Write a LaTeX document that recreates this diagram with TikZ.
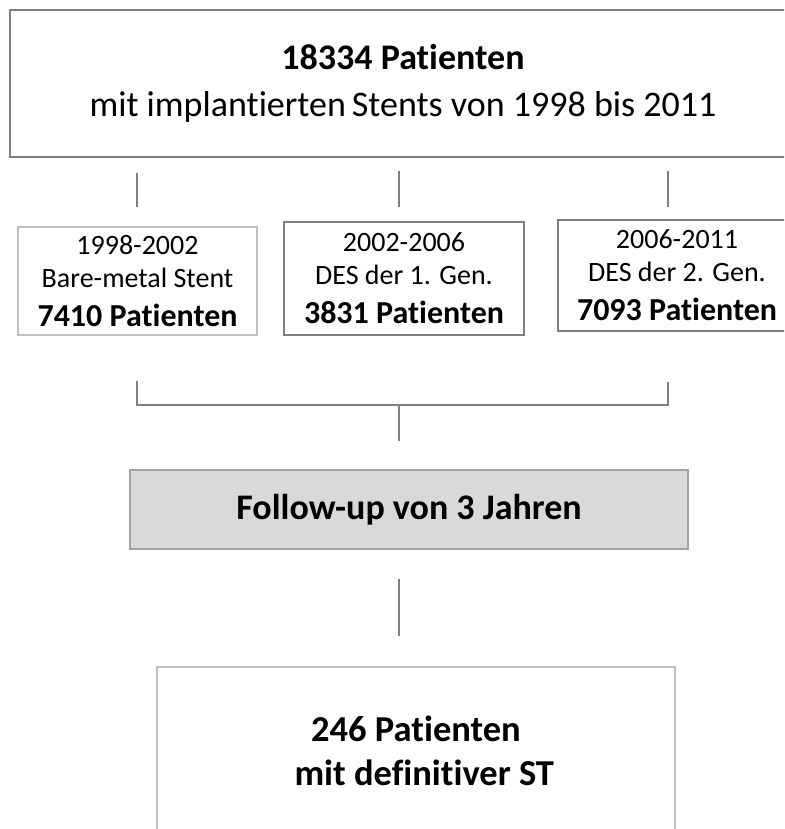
\documentclass[tikz,border=0pt]{standalone}
\usepackage{fontspec}
\setmainfont[Ligatures=NoCommon]{Carlito}
\definecolor{lineg}{HTML}{808080}
\definecolor{lightb}{HTML}{C0C0C0}
\definecolor{midb}{HTML}{7F7F7F}
\definecolor{fillg}{HTML}{D9D9D9}
\tikzset{
  box/.style={draw=midb, line width=1.5pt, rectangle, align=center, inner sep=0pt, text=black},
  periodbox/.style={box, font=\fontsize{28}{33}\selectfont},
  conn/.style={draw=lineg, line width=1.3pt},
}
\newcommand{\boldfs}{\fontsize{32}{38}\selectfont\bfseries}
\begin{document}
\begin{tikzpicture}[x=1pt,y=-1pt]
\useasboundingbox[fill=white] (0,0) rectangle (784,829);
\begin{scope}
\clip (0,0) rectangle (784,829);
% top box
\node[box, font=\fontsize{36}{47}\selectfont, minimum width=786pt, minimum height=147pt] (top) at (403,83.5)
  {{\bfseries 18334 Patienten}\\
   mit implantierten\,Stents von 1998 bis 2011};
% three period boxes
\node[periodbox, draw=lightb, line width=1.2pt, minimum width=239pt, minimum height=108pt] (b1) at (137.5,281)
  {1998-2002\\Bare-metal Stent\\[6pt]{\boldfs 7410 Patienten}};
\node[periodbox, line width=2pt, minimum width=240pt, minimum height=113pt] (b2) at (404,278.5)
  {2002-2006\\DES der 1. Gen.\\[6pt]{\boldfs 3831 Patienten}};
\node[periodbox, minimum width=238pt, minimum height=111pt] (b3) at (677,275.5)
  {2006-2011\\DES der 2. Gen.\\[6pt]{\boldfs 7093 Patienten}};
% follow-up box
\node[box, draw=lightb!85!black, fill=fillg, line width=1.3pt, minimum width=558pt, minimum height=79pt,
      font=\fontsize{36}{40}\selectfont\bfseries] (f) at (409,509.5)
  {Follow-up von 3 Jahren};
% bottom box
\node[box, draw=lightb, line width=1.3pt, minimum width=518pt, minimum height=168pt,
      font=\fontsize{36.5}{44}\selectfont\bfseries] (bot) at (416,751)
  {246 Patienten\\\ \ mit definitiver ST};
% connectors top -> boxes
\coordinate (c1) at (137,157);
\coordinate (c2) at (399,157);
\coordinate (c3) at (668,157);
\draw[conn, shorten <=15pt, shorten >=19pt] (top.south -| c1) -- (b1.north -| c1);
\draw[conn, shorten <=13pt, shorten >=14pt] (top.south -| c2) -- (b2.north -| c2);
\draw[conn, shorten <=13pt, shorten >=12pt] (top.south -| c3) -- (b3.north -| c3);
% bracket
\coordinate (j) at (399,405);
\draw[conn, shorten <=45pt, shorten >=50pt] (b1.south -| c1) -- (j -| c1) -- (j -| c3) -- (b3.south -| c3);
\draw[conn, shorten >=28pt] (j) -- (f.north -| j);
% follow-up -> bottom
\draw[conn, shorten <=29pt, shorten >=30pt] (f.south -| j) -- (bot.north -| j);
\end{scope}
\end{tikzpicture}
\end{document}
